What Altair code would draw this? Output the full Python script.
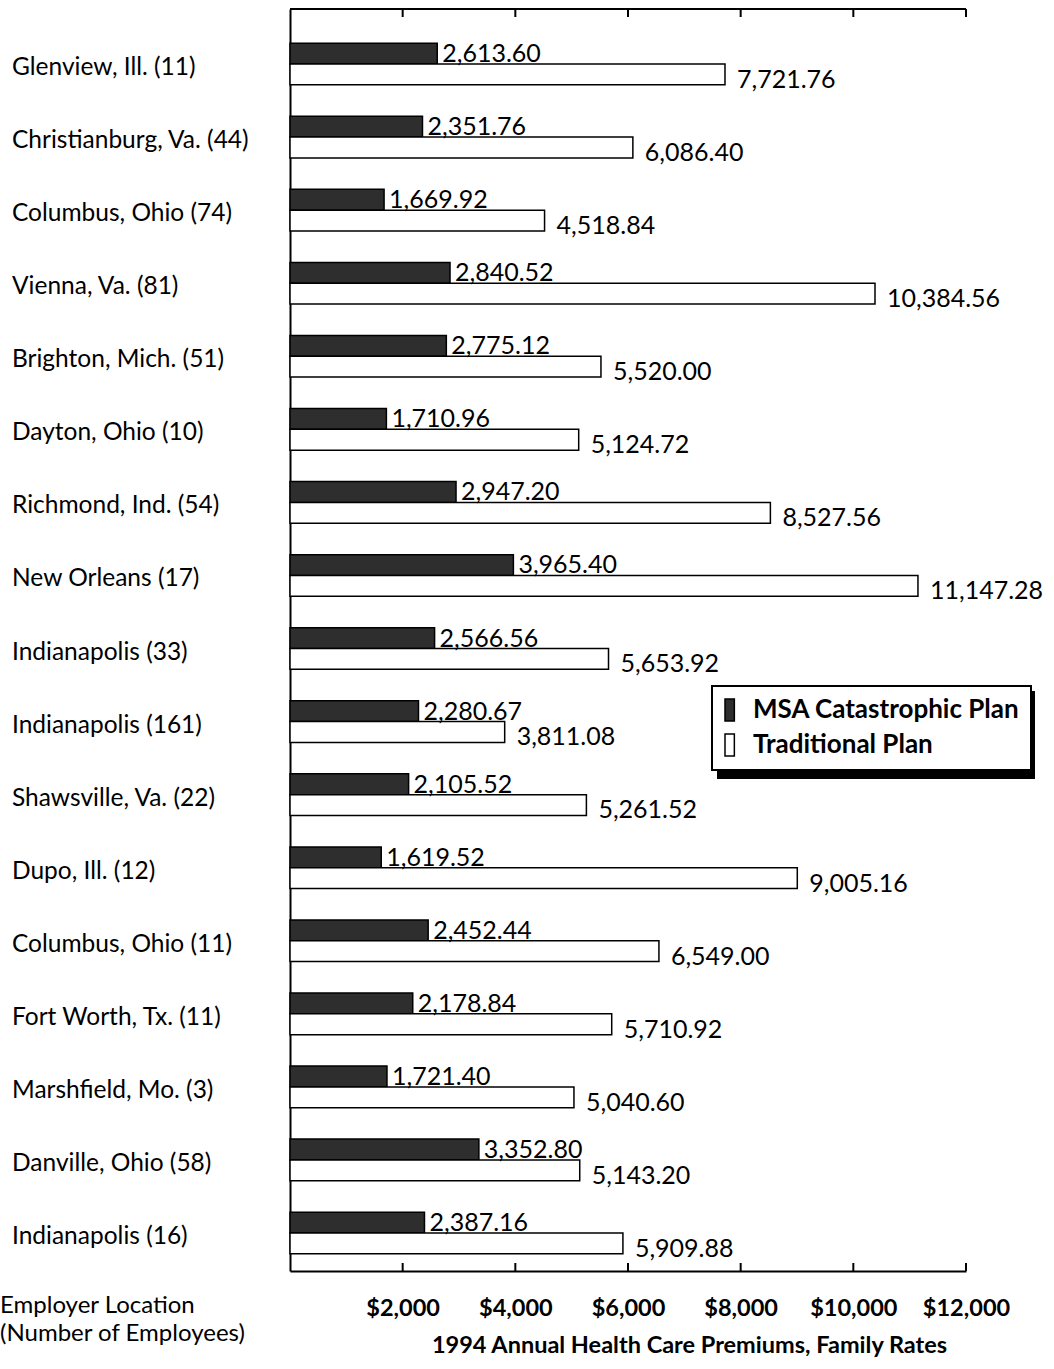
import altair as alt
import pandas as pd

cities = ["Glenview, Ill. (11)", "Christianburg, Va. (44)", "Columbus, Ohio (74)",
          "Vienna, Va. (81)", "Brighton, Mich. (51)", "Dayton, Ohio (10)",
          "Richmond, Ind. (54)", "New Orleans (17)", "Indianapolis (33)",
          "Indianapolis (161)", "Shawsville, Va. (22)", "Dupo, Ill. (12)",
          "Columbus, Ohio (11)", "Fort Worth, Tx. (11)", "Marshfield, Mo. (3)",
          "Danville, Ohio (58)", "Indianapolis (16)"]
msa = [2613.60, 2351.76, 1669.92, 2840.52, 2775.12, 1710.96, 2947.20, 3965.40,
       2566.56, 2280.67, 2105.52, 1619.52, 2452.44, 2178.84, 1721.40, 3352.80, 2387.16]
trad = [7721.76, 6086.40, 4518.84, 10384.56, 5520.00, 5124.72, 8527.56, 11147.28,
        5653.92, 3811.08, 5261.52, 9005.16, 6549.00, 5710.92, 5040.60, 5143.20, 5909.88]
plans = ["MSA Catastrophic Plan", "Traditional Plan"]
tick_values = [2000, 4000, 6000, 8000, 10000, 12000]
x_title = "1994 Annual Health Care Premiums, Family Rates"
y_title = "Employer Location\n(Number of Employees)"

rows = []
for i, c in enumerate(cities):
    rows.append({"idx": i, "city": c, "plan": plans[0], "value": msa[i]})
    rows.append({"idx": i, "city": c, "plan": plans[1], "value": trad[i]})
df = pd.DataFrame(rows)
city_df = pd.DataFrame({"idx": list(range(len(cities))), "city": cities})
ticks_df = pd.DataFrame({"tick": tick_values})

W, H = 676, 1262
FONT = "Lato"
BH = 0.285

xscale = alt.Scale(domain=[0, 12000], nice=False, zero=True)
yscale = alt.Scale(domain=[-0.753, 16.52], reverse=True, nice=False, zero=False)

base = alt.Chart(df).transform_calculate(
    y0=f"datum.idx + (datum.plan == '{plans[0]}' ? -{BH} : 0)",
    y1=f"datum.idx + (datum.plan == '{plans[0]}' ? 0 : {BH})",
    zero="0",
)

bars = base.mark_rect(stroke="black", strokeWidth=1.5).encode(
    x=alt.X("zero:Q", scale=xscale,
            axis=alt.Axis(values=tick_values, format="$,d", ticks=False, grid=False,
                          domain=True, domainColor="black", domainWidth=2,
                          labelFont=FONT, labelFontSize=23.5, labelFontWeight="bold",
                          labelColor="black", labelPadding=25, labelBaseline="top",
                          labelOverlap=False, labelFlush=False,
                          title=x_title, titleFont=FONT, titleFontSize=23.5,
                          titleFontWeight="bold", titleColor="black", titlePadding=14,
                          titleX=399, titleAnchor="middle")),
    x2="value:Q",
    y=alt.Y("y0:Q", scale=yscale,
            axis=alt.Axis(labels=False, ticks=False, grid=False, title=None,
                          domain=True, domainColor="black", domainWidth=2)),
    y2="y1:Q",
    color=alt.Color("plan:N", scale=alt.Scale(domain=plans, range=["#2e2e2e", "#ffffff"]),
                    legend=alt.Legend(orient="none", legendX=422, legendY=677, title=None,
                                      symbolType="M-1,-1L-0.15,-1L-0.15,1L-1,1Z",
                                      symbolSize=484, symbolStrokeColor="black",
                                      symbolStrokeWidth=1.5, labelFont=FONT,
                                      labelFontSize=26, labelFontWeight="bold",
                                      labelColor="black", labelOffset=4, padding=11,
                                      labelLimit=0,
                                      rowPadding=7, fillColor="white",
                                      strokeColor="black")),
)

msa_labels = base.transform_filter(f"datum.plan == '{plans[0]}'").mark_text(
    align="left", baseline="alphabetic", dx=5, dy=-2, font=FONT, fontSize=25, color="black"
).encode(x=alt.X("value:Q", scale=xscale), y=alt.Y("idx:Q", scale=yscale),
         text=alt.Text("value:Q", format=",.2f"))

trad_labels = base.transform_filter(f"datum.plan == '{plans[1]}'").mark_text(
    align="left", baseline="alphabetic", dx=12, dy=3, font=FONT, fontSize=25, color="black"
).encode(x=alt.X("value:Q", scale=xscale), y=alt.Y("y1:Q", scale=yscale),
         text=alt.Text("value:Q", format=",.2f"))

city_labels = alt.Chart(city_df).mark_text(
    align="left", baseline="middle", dy=4, font=FONT, fontSize=24.5, color="black"
).encode(x=alt.value(-278), y=alt.Y("idx:Q", scale=yscale), text="city:N")

top_ticks = alt.Chart(ticks_df).mark_rule(color="black", strokeWidth=2).encode(
    x=alt.X("tick:Q", scale=xscale), y=alt.value(0), y2=alt.value(8))
bottom_ticks = alt.Chart(ticks_df).mark_rule(color="black", strokeWidth=2).encode(
    x=alt.X("tick:Q", scale=xscale), y=alt.value(H), y2=alt.value(H - 8))
top_line = alt.Chart(ticks_df.head(1)).mark_rule(color="black", strokeWidth=2).encode(
    x=alt.value(0), x2=alt.value(W), y=alt.value(0))

shadow = alt.Chart(ticks_df.head(1)).mark_rect(color="black").encode(
    x=alt.value(427), x2=alt.value(745), y=alt.value(682), y2=alt.value(770))

ytitle = alt.Chart(pd.DataFrame({"t": [y_title]})).mark_text(
    align="left", baseline="top", lineBreak="\n", font=FONT, fontSize=24,
    lineHeight=28, color="black"
).encode(x=alt.value(-290), y=alt.value(H + 23), text="t:N")

chart = alt.layer(
    bars, msa_labels, trad_labels, city_labels, top_ticks, bottom_ticks, top_line,
    shadow, ytitle
).properties(
    width=W, height=H,
    padding={"left": 0, "top": 8, "right": 0, "bottom": 0},
).configure_view(stroke=None).configure_legend(strokeWidth=2)

chart.save("out.html", embed_options={"renderer": "svg", "actions": False})
